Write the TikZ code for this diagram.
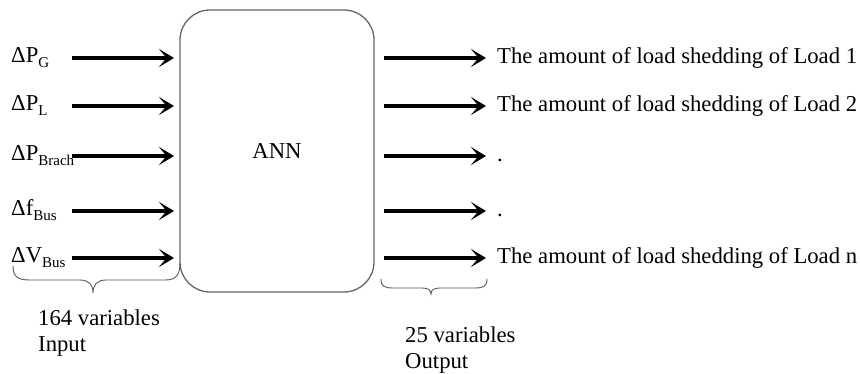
\documentclass[tikz,border=0pt]{standalone}
\usepackage{fontspec}
\setmainfont{Liberation Serif}
\usetikzlibrary{arrows.meta}
\tikzset{
  txt/.style={inner sep=0pt, anchor=base west, font=\fontsize{22.7}{26}\selectfont},
  arr/.style={line width=3.2pt, -{Stealth[length=15pt,width=18pt,inset=7.5pt]}},
  brc/.style={draw=black!65, line width=0.9pt},
  annbox/.style={draw=black!60, line width=1.3pt, rounded corners=30pt, minimum width=194pt, minimum height=282pt, inner sep=0pt, font=\fontsize{22.7}{26}\selectfont}
}
\newcommand{\sbs}[1]{\raisebox{-5pt}{\fontsize{15}{16}\selectfont #1}}
\begin{document}
\begin{tikzpicture}[x=1pt,y=-1pt]
\useasboundingbox (0,0) rectangle (860,374);
\node[annbox] (ann) at (277,151) {ANN};
% input labels
\node[txt] (l1) at (11,63) {ΔP\sbs{G}};
\node[txt] (l2) at (11,111) {ΔP\sbs{L}};
\node[txt] (l3) at (11,161) {ΔP\sbs{Brach}};
\node[txt] (l4) at (11,216) {Δf\sbs{Bus}};
\node[txt] (l5) at (11,263) {ΔV\sbs{Bus}};
% input arrows
\foreach \i/\y in {1/58,2/106,3/156,4/211,5/258}{
  \coordinate (is\i) at (72,\y);
  \coordinate (ie\i) at (174,\y);
  \draw[arr] (is\i) -- (ie\i);
  \coordinate (os\i) at (384,\y);
  \coordinate (oe\i) at (486,\y);
  \draw[arr] (os\i) -- (oe\i);
}
% output labels
\node[txt] (o1) at (497,64) {The amount of load shedding of Load 1};
\node[txt] (o2) at (497,112) {The amount of load shedding of Load 2};
\node[txt] (o3) at (497,162) {.};
\node[txt] (o4) at (497,217) {.};
\node[txt] (o5) at (497,264) {The amount of load shedding of Load n};
% braces
\draw[brc] (13,266) .. controls (13,277) and (18,280) .. (30,280) -- (80,280) .. controls (89,280) and (93,285) .. (93,293) .. controls (93,285) and (97,280) .. (106,280) -- (165,280) .. controls (176,280) and (180,275) .. (180,263);
\draw[brc] (381,279) .. controls (381,286) and (384,288) .. (393,288) -- (422,288) .. controls (428,288) and (431,290) .. (431,294) .. controls (431,290) and (434,288) .. (440,288) -- (475,288) .. controls (484,288) and (487,286) .. (487,279);
% captions
\node[txt] (c1) at (38,326) {164 variables};
\node[txt] (c2) at (38,352) {Input};
\node[txt] (c3) at (405,342) {25 variables};
\node[txt] (c4) at (405,368) {Output};
\end{tikzpicture}
\end{document}
